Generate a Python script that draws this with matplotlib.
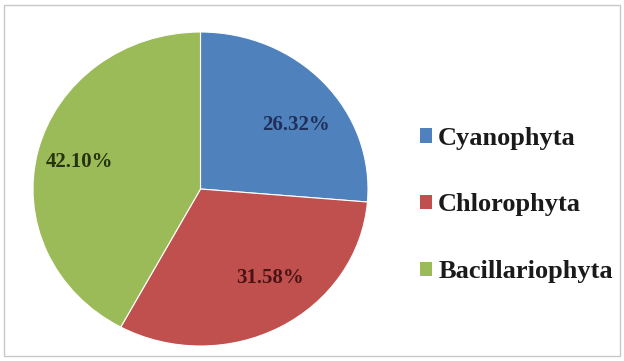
import matplotlib.pyplot as plt
from matplotlib.patches import Rectangle

# data
groups = ['Cyanophyta', 'Chlorophyta', 'Bacillariophyta']
percents = [26.32, 31.58, 42.10]
colors = ['#4F81BD', '#C0504D', '#9BBB59']
label_colors = ['#1F2F5A', '#4A1414', '#25330E']
# where Excel put the percentage labels (pie radius = 1)
label_pos = [(0.57, 0.41), (0.415, -0.567), (-0.725, 0.172)]

fig = plt.figure(figsize=(6.24, 3.61), dpi=100)
fig.patch.set_facecolor('white')

# light grey chart border
fig.patches.append(Rectangle((4 / 624, 5 / 361), 616 / 624, 351 / 361,
                             transform=fig.transFigure, fill=False,
                             edgecolor='#C8C8C8', linewidth=1.0))

# axes box matches the (slightly stretched) pie ellipse
ax = fig.add_axes([33 / 624, 15 / 361, 335 / 624, 314 / 361])
wedges, texts, autotexts = ax.pie(
    percents, colors=colors, startangle=90, counterclock=False,
    autopct='%.2f%%',
    wedgeprops=dict(edgecolor='white', linewidth=0.8),
    textprops=dict(family='Liberation Serif', fontweight='bold', fontsize=15))
ax.set_xlim(-1, 1)
ax.set_ylim(-1, 1)
ax.set_aspect('auto')
ax.axis('off')

for t, c, p in zip(autotexts, label_colors, label_pos):
    t.set_position(p)
    t.set_color(c)

leg = fig.legend(wedges, groups, loc='center left',
                 bbox_to_anchor=(396 / 624, (361 - 205) / 361),
                 frameon=False, handlelength=0.45, handleheight=0.45,
                 handletextpad=0.25, labelspacing=1.65,
                 prop=dict(family='Liberation Serif', weight='bold', size=19))
for h in leg.legend_handles:
    h.set_edgecolor('none')
for t in leg.get_texts():
    t.set_color('#1A1A1A')

fig.savefig('out.png', dpi=100)
